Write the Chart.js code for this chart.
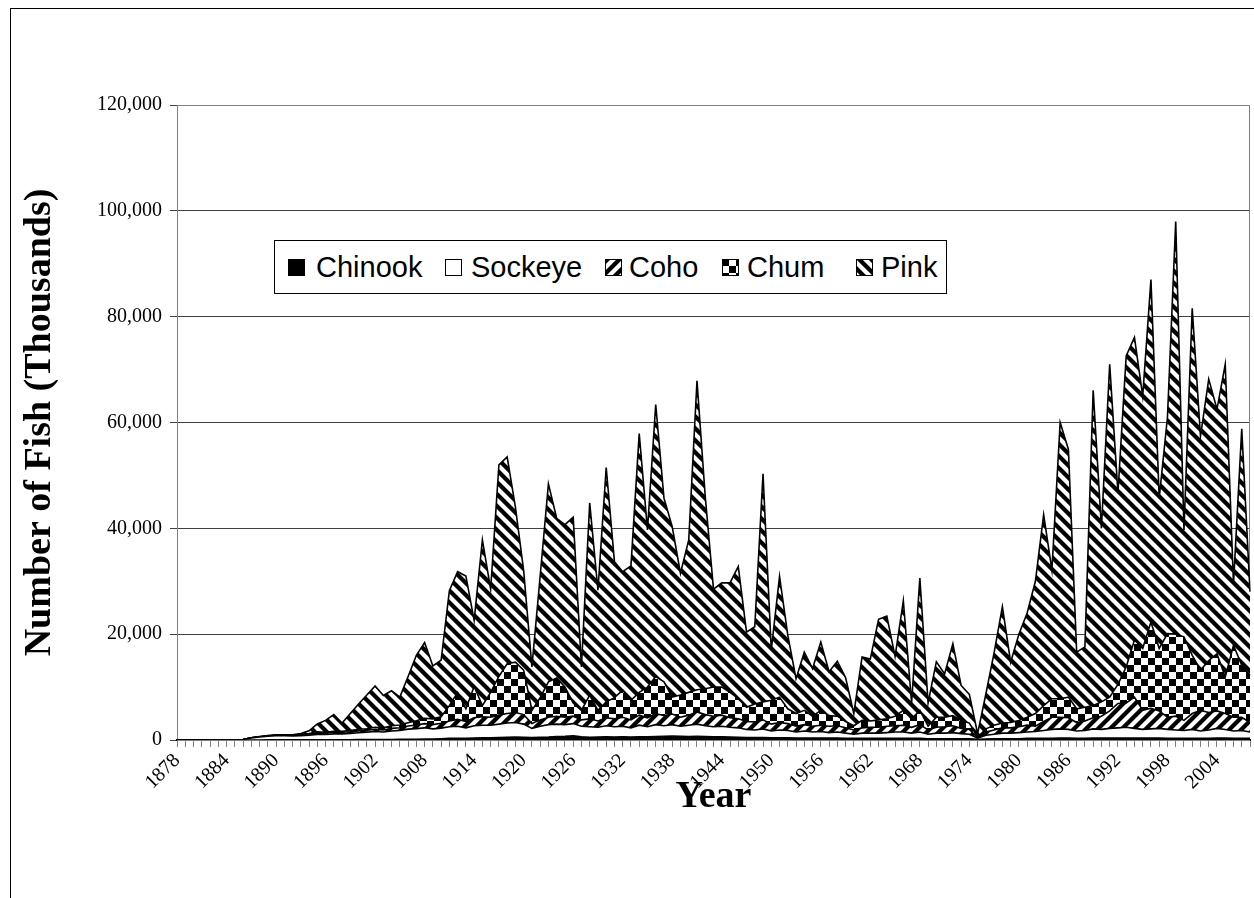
<!DOCTYPE html>
<html>
<head>
<meta charset="utf-8">
<script src="https://cdn.jsdelivr.net/npm/chart.js@4.4.0/dist/chart.umd.min.js"></script>
<style>
  html, body { margin: 0; padding: 0; background: #fff; }
  #wrap { position: relative; width: 1254px; height: 898px; overflow: hidden; }
  #frame { position: absolute; left: 10px; top: 8px; width: 1400px; height: 1000px; border: 1px solid #000; }
  #chart { position: absolute; left: 0; top: 0; }
  #legend { position: absolute; left: 274px; top: 240px; width: 671px; height: 52px; border: 1px solid #000; background: #fff;
            font-family: "Liberation Sans", Arial, sans-serif; font-size: 29px; color: #000; }
  #legend canvas { position: absolute; top: 18px; }
  #legend span { position: absolute; top: 0; line-height: 52px; white-space: nowrap; }
</style>
</head>
<body>
<div id="wrap">
  <div id="frame"></div>
  <canvas id="chart" width="1254" height="898"></canvas>
  <div id="legend"></div>
</div>
<script>
// categories
const years = [
  1878,1879,1880,1881,1882,1883,1884,1885,1886,1887,
  1888,1889,1890,1891,1892,1893,1894,1895,1896,1897,
  1898,1899,1900,1901,1902,1903,1904,1905,1906,1907,
  1908,1909,1910,1911,1912,1913,1914,1915,1916,1917,
  1918,1919,1920,1921,1922,1923,1924,1925,1926,1927,
  1928,1929,1930,1931,1932,1933,1934,1935,1936,1937,
  1938,1939,1940,1941,1942,1943,1944,1945,1946,1947,
  1948,1949,1950,1951,1952,1953,1954,1955,1956,1957,
  1958,1959,1960,1961,1962,1963,1964,1965,1966,1967,
  1968,1969,1970,1971,1972,1973,1974,1975,1976,1977,
  1978,1979,1980,1981,1982,1983,1984,1985,1986,1987,
  1988,1989,1990,1991,1992,1993,1994,1995,1996,1997,
  1998,1999,2000,2001,2002,2003,2004,2005,2006,2007,
  2008
];

// series (thousands of fish)
const chinook = [
  0,0,0,0,0,0,0,0,0,10,
  10,20,20,20,20,30,30,40,50,50,
  60,60,80,80,100,100,100,120,150,150,
  200,200,250,300,300,300,350,400,400,450,
  500,550,500,450,500,550,650,700,800,600,
  500,550,600,550,600,550,600,600,650,700,
  750,700,650,700,650,600,600,550,500,450,
  450,450,400,400,400,350,350,350,350,350,
  350,300,300,300,300,300,300,300,300,300,
  300,250,250,250,250,250,250,150,200,250,
  250,250,250,300,300,300,300,350,350,300,
  300,350,350,350,350,350,350,350,350,350,
  300,300,300,300,300,300,350,350,300,300,
  300
];
const sockeye = [
  0,0,0,0,0,0,0,0,100,390,
  550,700,800,800,750,800,900,1000,1000,1100,
  1100,1200,1300,1400,1500,1400,1600,1700,1900,2000,
  2100,1900,2000,2200,2300,2000,2350,2400,2400,2550,
  2700,2750,2500,1750,2100,2350,2350,2200,2300,2000,
  2000,1850,2100,1950,2000,1750,2200,1900,2250,2000,
  2150,1900,2150,2300,2050,1900,2000,1850,1800,1550,
  1450,1650,1300,1500,1400,1150,1350,1150,1250,1050,
  1150,1000,800,1000,1000,1000,1100,1200,1200,1000,
  1200,850,1050,1050,1150,950,850,200,700,850,
  1050,1050,1150,1200,1300,1500,1700,1750,1650,1400,
  1500,1750,1650,1850,1950,2050,1850,1650,1750,1850,
  1700,1600,1500,1700,1400,1600,1850,1650,1400,1500,
  1200
];
const coho = [
  0,0,0,0,0,0,0,0,0,20,
  30,50,80,80,100,150,200,300,250,300,
  300,300,350,350,400,400,500,500,600,700,
  800,800,900,1100,1300,1200,1500,1600,1500,1700,
  1800,1900,1800,900,1200,1400,1500,1400,1400,1200,
  1500,1200,1500,1500,1700,1500,1900,1700,2100,1900,
  2000,1700,1900,2300,2100,2000,2100,1800,1700,1500,
  1500,1700,1300,1400,1300,1100,1200,1100,1200,1200,
  1200,1000,800,1000,1100,1100,1200,1200,1300,1100,
  1400,800,1100,1200,1300,1000,900,100,600,800,
  1000,1000,1100,1300,1000,1700,2300,2200,2200,1600,
  1800,2100,2500,3300,4600,4600,5900,3600,3900,3300,
  2300,2600,1900,3000,3900,3300,3300,3000,2600,2500,
  1800
];
const chum = [
  0,0,0,0,0,0,0,0,0,0,
  0,0,20,20,30,50,100,200,150,200,
  200,250,300,300,400,400,500,500,600,800,
  1000,1100,1250,2900,5100,2400,5900,2100,4700,7300,
  9400,9500,8400,2500,4200,6700,7200,5700,2500,1800,
  4500,2000,3000,4000,5100,3700,4300,5800,7000,6400,
  3200,4200,4300,4200,4900,5500,5300,4800,3800,2700,
  3400,3400,4500,4800,2800,2400,2700,1900,2800,2000,
  1800,1200,800,1400,1200,1400,1400,1800,2800,1600,
  2700,700,1900,1800,1900,1500,1200,50,600,900,
  900,1000,1200,1500,2400,3000,3500,3500,3900,2600,
  2600,2300,2700,2600,3600,6800,10800,11700,16300,11800,
  15800,15500,15800,11000,7600,9800,10800,6900,13600,9800,
  8900
];
const pink = [
  0,0,0,0,0,0,0,0,0,10,
  50,50,80,80,100,200,500,1500,2250,3150,
  1540,3190,4770,6370,7800,6100,6600,5280,8750,12350,
  14300,10000,10700,21700,22800,25100,12500,31300,19500,40000,
  39100,29300,18800,8200,23000,37400,30200,30700,35100,8200,
  36300,22700,44300,25700,22400,25400,48900,29700,51400,34700,
  32200,23000,28800,58400,36300,18500,19700,20700,25000,14200,
  14600,43100,9500,22800,13900,6600,11000,9000,12900,8300,
  10400,8300,2300,12000,11700,19000,19400,11300,20700,3000,
  25000,4400,10500,8200,13600,6600,5400,700,6600,13700,
  22000,11400,16300,19700,25000,36100,24300,52200,46800,10700,
  11400,59600,32800,62900,36200,58800,57200,47700,64700,28400,
  40900,78000,20200,65600,44200,53200,46200,59100,11600,44700,
  15800
];

// tick labels
const yMax = 120000;
const yStep = 20000;
const xLabelEvery = 6;

// fill patterns
function makeTile(size, isBlack) {
  const c = document.createElement("canvas");
  c.width = c.height = size;
  const g = c.getContext("2d");
  const img = g.createImageData(size, size);
  for (let y = 0; y < size; y++) {
    for (let x = 0; x < size; x++) {
      let cov = 0;
      for (let sy = 0; sy < 4; sy++)
        for (let sx = 0; sx < 4; sx++)
          if (isBlack(x + (sx + 0.5) / 4, y + (sy + 0.5) / 4)) cov++;
      const v = Math.round(255 * (1 - cov / 16));
      const i = (y * size + x) * 4;
      img.data[i] = img.data[i + 1] = img.data[i + 2] = v;
      img.data[i + 3] = 255;
    }
  }
  g.putImageData(img, 0, 0);
  return c;
}
const mod = (a, n) => ((a % n) + n) % n;
const tiles = {
  coho: makeTile(12, (x, y) => mod(x + y, 12) < 6),
  chum: makeTile(14, (x, y) => (Math.floor(x / 7) + Math.floor(y / 7)) % 2 === 0),
  pink: makeTile(12, (x, y) => mod(x - y, 12) < 6),
};
function fillFor(ctx, key) {
  if (key === "chinook") return "#000";
  if (key === "sockeye") return "#fff";
  return ctx.createPattern(tiles[key], "repeat");
}

const canvas = document.getElementById("chart");
const ctx = canvas.getContext("2d");

const seriesList = [
  { key: "chinook", label: "Chinook", data: chinook },
  { key: "sockeye", label: "Sockeye", data: sockeye },
  { key: "coho", label: "Coho", data: coho },
  { key: "chum", label: "Chum", data: chum },
  { key: "pink", label: "Pink", data: pink },
];

// plot area border
const plotFrame = {
  id: "plotFrame",
  beforeDatasetsDraw(chart) {
    const a = chart.chartArea;
    const c = chart.ctx;
    c.save();
    c.strokeStyle = "#808080";
    c.lineWidth = 1;
    c.strokeRect(a.left + 0.5, a.top + 0.5, a.right - a.left - 1, a.bottom - a.top);
    c.restore();
  },
};

const serif = "'Liberation Serif', 'Times New Roman', serif";

new Chart(ctx, {
  type: "line",
  data: {
    labels: years.map(String),
    datasets: seriesList.map((s, i) => ({
      label: s.label,
      data: s.data,
      fill: i === 0 ? "origin" : "-1",
      backgroundColor: fillFor(ctx, s.key),
      borderColor: "#000",
      borderWidth: 1.6,
      pointRadius: 0,
      tension: 0,
    })),
  },
  options: {
    responsive: false,
    animation: false,
    devicePixelRatio: 1,
    layout: { padding: { top: 105, right: 4, left: 0, bottom: 0 } },
    plugins: {
      legend: { display: false },
      tooltip: { enabled: false },
    },
    scales: {
      x: {
        offset: false,
        grid: { drawOnChartArea: false, drawTicks: true, tickLength: 7, color: "#808080" },
        border: { color: "#000", width: 2 },
        ticks: {
          autoSkip: false,
          minRotation: 45,
          maxRotation: 45,
          padding: 2,
          color: "#000",
          font: { family: serif, size: 20 },
          callback: (v, i) => (i % xLabelEvery === 0 ? String(years[i]) : ""),
        },
        title: {
          display: true,
          text: "Year",
          color: "#000",
          font: { family: serif, size: 38, weight: "bold" },
          padding: { top: 0, bottom: 78 },
        },
        afterFit: (scale) => {
          scale.height = 158;
          scale.paddingLeft = 0;
          scale.paddingRight = 0;
        },
      },
      y: {
        stacked: true,
        min: 0,
        max: yMax,
        grid: { color: "#404040", lineWidth: 1, tickLength: 7 },
        border: { color: "#404040", width: 1 },
        ticks: {
          stepSize: yStep,
          padding: 8,
          color: "#000",
          font: { family: serif, size: 20 },
          callback: (v) => v.toLocaleString("en-US"),
        },
        title: {
          display: true,
          text: "Number of Fish (Thousands)",
          color: "#000",
          font: { family: serif, size: 38, weight: "bold" },
          padding: { top: 17, bottom: 0 },
        },
        afterFit: (scale) => { scale.width = 177; },
      },
    },
  },
  plugins: [plotFrame],
});

// legend
const legend = document.getElementById("legend");
const swatchLeft = [13, 170, 330, 447, 581];
const textLeft = [41, 196, 354, 472, 606];
seriesList.forEach((s, i) => {
  const sw = document.createElement("canvas");
  sw.width = 17; sw.height = 17;
  sw.style.left = swatchLeft[i] + "px";
  const g = sw.getContext("2d");
  g.fillStyle = fillFor(g, s.key);
  g.fillRect(0, 0, 17, 17);
  g.strokeStyle = "#000";
  g.lineWidth = 1;
  g.strokeRect(0.5, 0.5, 16, 16);
  legend.appendChild(sw);
  const t = document.createElement("span");
  t.textContent = s.label;
  t.style.left = textLeft[i] + "px";
  legend.appendChild(t);
});
</script>
</body>
</html>
